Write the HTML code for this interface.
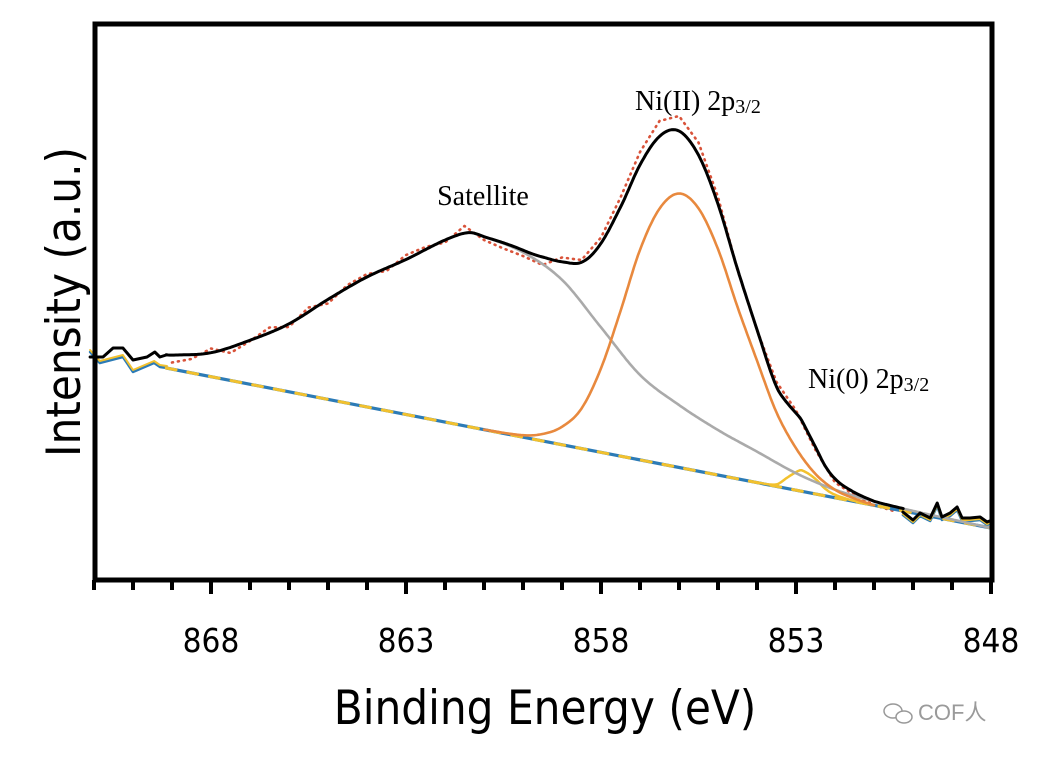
<!DOCTYPE html>
<html><head><meta charset="utf-8"><style>
html,body{margin:0;padding:0;background:#fff;}
svg{display:block;}
</style></head><body>
<svg id="chart" width="1046" height="758" viewBox="0 0 1046 758" xmlns="http://www.w3.org/2000/svg">
<g id="marks"></g>
<rect x="95" y="24" width="897" height="556" fill="none" stroke="#000" stroke-width="5"/>
<g id="xticks"></g>
<text x="545" y="724" font-family="'DejaVu Sans Condensed','Liberation Sans',sans-serif" font-size="47" text-anchor="middle">Binding Energy (eV)</text>
<text transform="translate(80,302) rotate(-90)" font-family="'DejaVu Sans Condensed','Liberation Sans',sans-serif" font-size="47" text-anchor="middle">Intensity (a.u.)</text>
<text x="483" y="205" font-family="'Liberation Serif',serif" font-size="28" text-anchor="middle">Satellite</text>
<text x="635" y="110" font-family="'Liberation Serif',serif" font-size="28">Ni(II) 2p<tspan font-size="20" dy="3">3/2</tspan></text>
<text x="808" y="388" font-family="'Liberation Serif',serif" font-size="28">Ni(0) 2p<tspan font-size="20" dy="3">3/2</tspan></text>
<g>
<ellipse cx="893" cy="711" rx="9" ry="7" fill="none" stroke="#999" stroke-width="1.5"/>
<ellipse cx="904" cy="717" rx="8" ry="6" fill="#fff" stroke="#999" stroke-width="1.5"/>
<text x="918" y="720" font-family="'Liberation Sans','Noto Sans CJK SC',sans-serif" font-size="22" fill="#9a9a9a">COF人</text>
</g>
</svg>
<script>
// ---- data ----
const xTicks = [868, 863, 858, 853, 848];
const bgE = [869.15, 848];
const bgI = [46.4, 14.4];
const satE = [869.2,869,868,867,866,865,864,863,862,861.4,861,860,859,858,857,856,855,854,853,852,851,850,849,848];
const satH = [2.6,2.8,4.8,8.8,13.6,20,26,31,36.4,38.8,38.6,37,33,25,17,12.5,9,6.2,3.4,1.6,0.8,0.4,0.2,0];
const ni2E = [861,860,859.5,859,858.5,858,857.5,857,856.5,856,855.5,855,854.5,854,853.5,853,852.5,852,851.5,851];
const ni2H = [0,0.4,1.4,3.6,8,16.8,29,42,51,54.8,52.6,45.2,34.4,24.4,14.8,8.4,4,1.6,0.6,0];
const ni0E = [854,853.5,853.25,853,852.85,852.5,852.25,852,851.5,851];
const ni0H = [0,0.4,2,3.6,4.2,3,1.4,0.6,0.1,0];
const noiseLE = [871.1,870.77,870.51,870.26,870.0,869.64,869.44,869.31,869.15];
const noiseLI = [48.6,48.6,50.4,50.4,48,48.6,49.6,48.6,49];
const noiseLBlueE = [871.1,870.85,870.26,870.0,869.46,869.31,869.13];
const noiseLBlueI = [49.6,47.4,48.6,45.6,47.4,46.6,46.4];
const noiseRE = [850.26,850.0,849.82,849.56,849.38,849.26,849.05,848.87,848.74,848.54,848.28,848.1,847.97];
const noiseRI = [17.6,16,17.4,16.4,19.4,16.6,17.4,18.6,16.4,16.4,16.6,15.6,16];
const rawE0 = 869, rawStep = 0.5;
const rawI = [47.5,48.2,50.3,49.4,51.8,54.5,54.6,58.5,59.3,63.0,65.2,65.8,69.0,70.6,71.5,74.8,72.0,70.3,68.8,67.0,68.5,68.0,72.5,80.5,89.6,95.8,96.8,91.5,80.6,66.0,54.0,43.6,37.9,30.0,23.5,21.0,19.0,17.8];

// ---- scales ----
const X0 = 211, PXE = 39;
const xs = e => X0 + (868 - e) * PXE;
const ys = v => 600 - 5 * v;
const NS = 'http://www.w3.org/2000/svg';
const marks = document.getElementById('marks');
function interpL(E, H, e){
  const n = E.length;
  if (e >= E[0]) return H[0];
  if (e <= E[n-1]) return H[n-1];
  for (let i=0;i<n-1;i++){ if (e<=E[i] && e>=E[i+1]){ const t=(E[i]-e)/(E[i]-E[i+1]); return H[i]+t*(H[i+1]-H[i]); } }
  return 0;
}
function interpS(E, H, e){
  const n = E.length;
  if (e > E[0] + 1e-9 || e < E[n-1] - 1e-9) return 0;
  const slope = i => {
    if (i<=0) return (H[1]-H[0])/(E[1]-E[0]);
    if (i>=n-1) return (H[n-1]-H[n-2])/(E[n-1]-E[n-2]);
    return (H[i+1]-H[i-1])/(E[i+1]-E[i-1]);
  };
  for (let i=0;i<n-1;i++){
    if (e<=E[i]+1e-9 && e>=E[i+1]-1e-9){
      const h = E[i+1]-E[i], t = (e-E[i])/h;
      const t2=t*t, t3=t2*t;
      const v = (2*t3-3*t2+1)*H[i] + (t3-2*t2+t)*h*slope(i) + (-2*t3+3*t2)*H[i+1] + (t3-t2)*h*slope(i+1);
      return Math.max(0, v);
    }
  }
  return 0;
}
const bg = e => interpL(bgE, bgI, e);
function linePath(pts){ return pts.map((p,i)=>(i?'L':'M')+p[0].toFixed(1)+','+p[1].toFixed(1)).join(''); }
function addPath(d, stroke, w, dash, name){
  const p = document.createElementNS(NS,'path');
  p.setAttribute('d', d); p.setAttribute('fill','none'); p.setAttribute('stroke',stroke);
  p.setAttribute('stroke-width', w); p.setAttribute('stroke-linejoin','round'); p.setAttribute('stroke-linecap','round');
  if (dash) p.setAttribute('stroke-dasharray', dash);
  
  
  marks.appendChild(p);
  return p;
}
function compPts(E,H){
  const pts = [];
  const hi = Math.min(E[0], 869.15);
  for (let e = hi; e >= E[E.length-1] - 1e-9; e -= 0.05) pts.push([xs(e), ys(bg(e) + interpS(E,H,e))]);
  return pts;
}

const rawPts = rawI.map((v,i)=>[xs(rawE0 - i*rawStep), ys(v)]);
addPath(linePath(rawPts), '#d9533a', 2.6, '1 5', 'raw-data');

const nlB = noiseLBlueE.map((e,i)=>[xs(e), ys(noiseLBlueI[i])]);
const nrB = noiseRE.map((e,i)=>[xs(e), ys(noiseRI[i]-0.6)]);
addPath(linePath(nlB), '#2c7bb6', 2.5, null, 'baseline-noise-left');
addPath(linePath(nrB), '#2c7bb6', 2.5, null, 'baseline-noise-right');
addPath(linePath(nlB.map(p=>[p[0],p[1]-2])), '#f2c12e', 2, null, 'ni0-noise-left');
addPath(linePath(nrB.map(p=>[p[0],p[1]-1])), '#f2c12e', 2, null, 'ni0-noise-right');
const bgLine = [[xs(bgE[0]),ys(bgI[0])],[xs(bgE[1]),ys(bgI[1])]];
addPath(linePath(bgLine), '#2c7bb6', 3.2, null, 'background-line');
addPath(linePath(bgLine), '#f2c12e', 3, '10 12', 'ni0-baseline-dash');
addPath(linePath(compPts(ni0E, ni0H)), '#f2c12e', 2.5, null, 'ni0-peak');
addPath(linePath(compPts(satE, satH)), '#aaaaaa', 2.6, null, 'satellite-peak');
addPath(linePath(compPts(ni2E, ni2H)), '#e8893e', 2.6, null, 'ni2-peak');
const envPts = [];
for (let e = 869.15; e >= 850.25; e -= 0.05)
  envPts.push([xs(e), ys(bg(e) + interpS(satE,satH,e) + interpS(ni2E,ni2H,e) + interpS(ni0E,ni0H,e))]);
addPath(linePath(envPts), '#000', 3, null, 'envelope-fit');
addPath(linePath(noiseLE.map((e,i)=>[xs(e), ys(noiseLI[i])])), '#000', 3, null, 'envelope-noise-left');
addPath(linePath(noiseRE.map((e,i)=>[xs(e), ys(noiseRI[i])])), '#000', 3, null, 'envelope-noise-right');

const tg = document.getElementById('xticks');
for (let e = 871; e >= 848; e--){
  const major = xTicks.indexOf(e) >= 0;
  const l = document.createElementNS(NS,'line');
  l.setAttribute('x1', xs(e)); l.setAttribute('x2', xs(e));
  l.setAttribute('y1', 580); l.setAttribute('y2', major ? 594 : 590);
  l.setAttribute('stroke', '#000'); l.setAttribute('stroke-width', 4);
  
  
  tg.appendChild(l);
}
xTicks.forEach(e => {
  const t = document.createElementNS(NS,'text');
  t.setAttribute('x', xs(e)); t.setAttribute('y', 652);
  t.setAttribute('text-anchor','middle');
  t.setAttribute('font-family', "'DejaVu Sans Condensed','Liberation Sans',sans-serif");
  t.setAttribute('font-size', 33);
  t.textContent = e;
  
  
  tg.appendChild(t);
});
</script>
</body></html>
